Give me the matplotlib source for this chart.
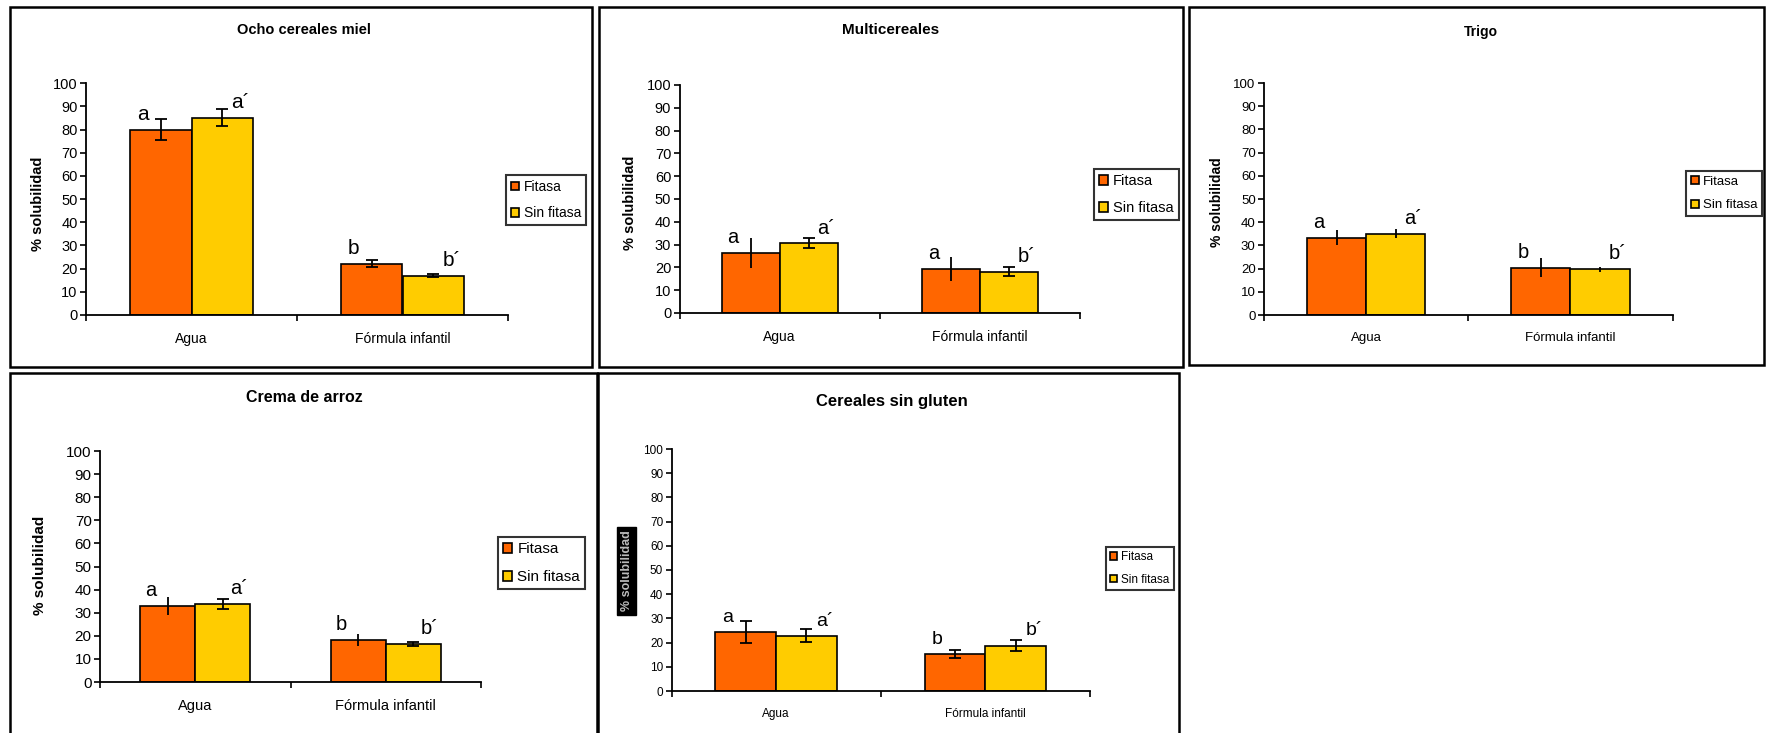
import matplotlib
matplotlib.use("Agg")
import matplotlib.pyplot as plt
from matplotlib.patches import Rectangle
import numpy as np

# data
titles = ["Ocho cereales miel", "Multicereales", "Trigo", "Crema de arroz", "Cereales sin gluten"]
categories = ["Agua", "Fórmula infantil"]
series = ["Fitasa", "Sin fitasa"]

fitasa = [[80.0, 22.2], [26.3, 19.3], [33.4, 20.4], [32.9, 18.2], [24.4, 15.4]]
sin_fitasa = [[85.2, 17.0], [30.5, 18.2], [35.1, 19.7], [33.8, 16.5], [22.9, 18.8]]
fitasa_err = [[4.5, 1.4], [6.6, 5.3], [3.2, 4.0], [4.0, 2.4], [4.6, 1.6]]
sin_fitasa_err = [[3.6, 0.6], [2.2, 1.8], [2.0, 1.2], [2.2, 0.9], [2.8, 2.4]]
fitasa_letters = [["a", "b"], ["a", "a"], ["a", "b"], ["a", "b"], ["a", "b"]]
sin_fitasa_letters = [["a´", "b´"], ["a´", "b´"], ["a´", "b´"], ["a´", "b´"], ["a´", "b´"]]
yticks = list(range(0, 101, 10))

COLORS = ["#FF6600", "#FFCC00"]
W, H = 1766, 733

plt.rcParams['font.family'] = ['Liberation Sans', 'DejaVu Sans']

# layout in reference pixels
panels = [
    dict(border=(9.6, 7.3, 592, 367), axes=(86, 508, 83.3, 315), title=(304, 30, 10.5),
         legend=(506, 175, 10), ylab=(38, 204, 10.5), fs=(10.5, 10, 15), caps=[(1, 1), (1, 1)]),
    dict(border=(599, 7.3, 1183, 367), axes=(679.5, 1080, 85, 313), title=(891, 30, 11),
         legend=(1094, 169, 10.5), ylab=(630, 203, 10.5), fs=(10.5, 10, 14.5), caps=[(0, 0), (1, 1)]),
    dict(border=(1189, 7.3, 1764, 365), axes=(1264, 1672.5, 83, 315), title=(1481, 32, 10),
         legend=(1686, 171, 9.5), ylab=(1217, 202, 10), fs=(9.5, 9.5, 14.5), caps=[(0, 0), (0, 0)]),
    dict(border=(9.6, 373, 597, 745), axes=(100, 481, 451, 682), title=(304, 397, 11.5),
         legend=(497.5, 537, 11), ylab=(40, 565, 11), fs=(11, 10.5, 14.5), caps=[(0, 0), (1, 1)]),
    dict(border=(598.4, 373, 1179, 745), axes=(671.5, 1090, 449, 691), title=(891.6, 401, 12),
         legend=(1106, 547, 8.5), ylab=None, fs=(8.5, 8.5, 14), caps=[(1, 1), (1, 1)]),
]

fig = plt.figure(figsize=(W / 100, H / 100), dpi=100)


def fx(px):
    return px / W


def fy(py):
    return 1 - py / H


x = np.arange(len(categories))
w = 0.29

for i, p in enumerate(panels):
    bx0, by0, bx1, by1 = p["border"]
    fig.add_artist(Rectangle((fx(bx0), fy(by1)), fx(bx1 - bx0), (by1 - by0) / H,
                             transform=fig.transFigure, fill=False, edgecolor="black", linewidth=1.8))

    l, r, top, bot = p["axes"]
    ax = fig.add_axes([fx(l), fy(bot), fx(r - l), (bot - top) / H])
    tick_fs, cat_fs, let_fs = p["fs"]

    vals = [fitasa[i], sin_fitasa[i]]
    errs = [fitasa_err[i], sin_fitasa_err[i]]
    letters = [fitasa_letters[i], sin_fitasa_letters[i]]
    for s in range(2):
        xs = x + (s - 0.5) * w
        ax.bar(xs, vals[s], w, color=COLORS[s], edgecolor="black", linewidth=1.2,
               label=series[s], zorder=2)
        for k in range(len(categories)):
            ax.errorbar(xs[k], vals[s][k], yerr=errs[s][k], fmt="none", ecolor="black",
                        elinewidth=1.3, capsize=4 if p["caps"][s][k] else 0, capthick=1.3, zorder=3)
            dx = -0.3 * w if s == 0 else 0.3 * w
            ax.text(xs[k] + dx, vals[s][k] + 2.5, letters[s][k], fontsize=let_fs,
                    ha="center", va="bottom")

    ax.set_xlim(-0.5, 1.5)
    ax.set_ylim(0, 100)
    ax.set_yticks(yticks)
    ax.set_xticks(x)
    ax.set_xticklabels(categories, fontsize=cat_fs)
    ax.set_xticks([-0.5, 0.5, 1.5], minor=True)
    ax.tick_params(axis="x", which="major", length=0, pad=12)
    ax.tick_params(axis="x", which="minor", length=4, width=1.2, direction="out")
    ax.tick_params(axis="y", labelsize=tick_fs, length=4, width=1.2, pad=2)
    for side in ["top", "right"]:
        ax.spines[side].set_visible(False)
    for side in ["left", "bottom"]:
        ax.spines[side].set_linewidth(1.3)
    ax.patch.set_alpha(0)

    tx, ty, tfs = p["title"]
    fig.text(fx(tx), fy(ty), titles[i], fontsize=tfs, fontweight="bold", ha="center", va="center")

    lx, ly, lfs = p["legend"]
    leg = ax.legend(loc="upper left", bbox_to_anchor=(fx(lx), fy(ly)), bbox_transform=fig.transFigure,
                    fontsize=lfs, frameon=True, fancybox=False, borderaxespad=0, borderpad=0.35,
                    handlelength=0.6, handleheight=0.6, handletextpad=0.35, labelspacing=0.9)
    leg.get_frame().set_edgecolor("black")
    leg.get_frame().set_linewidth(1.5)
    for h in leg.legend_handles:
        h.set_linewidth(1.2)

    if p["ylab"] is not None:
        yx, yy, yfs = p["ylab"]
        fig.text(fx(yx), fy(yy), "% solubilidad", fontsize=yfs, fontweight="bold",
                 rotation=90, ha="center", va="center")
    else:
        # garbled black label box in the last panel
        fig.text(fx(626.5), fy(571), "% solubilidad", fontsize=9, fontweight="bold", color="#bbbbbb",
                 rotation=90, ha="center", va="center",
                 bbox=dict(facecolor="black", edgecolor="black", pad=2.5))

fig.savefig("out.png", dpi=100)
